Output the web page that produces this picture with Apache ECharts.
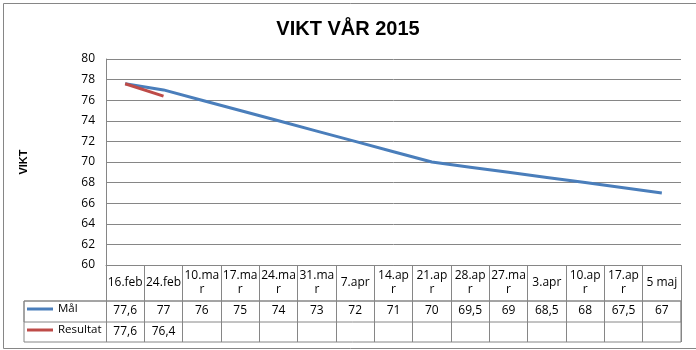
<!DOCTYPE html>
<html>
<head>
<meta charset="utf-8">
<script src="https://cdn.jsdelivr.net/npm/echarts@6/dist/echarts.min.js"></script>
<style>
html,body{margin:0;padding:0;background:#fff;}
#c{width:696px;height:350px;}
</style>
</head>
<body>
<div id="c"></div>
<script>
// Category labels as displayed in the data table (wrapped as in the picture)
var categories = ["16.feb","24.feb","10.ma\nr","17.ma\nr","24.ma\nr","31.ma\nr","7.apr","14.ap\nr","21.ap\nr","28.ap\nr","27.ma\nr","3.apr","10.ap\nr","17.ap\nr","5 maj"];
var malValues = [77.6,77,76,75,74,73,72,71,70,69.5,69,68.5,68,67.5,67];
var resultatValues = [77.6,76.4];
var yTicks = {min:60, max:80, interval:2};
var seriesNames = ["Mål","Resultat"];

function fmt(v){ return (v === undefined || v === null) ? "" : String(v).replace(".", ","); }
var malRow = categories.map(function(_, i){ return fmt(malValues[i]); });
var resRow = categories.map(function(_, i){ return fmt(resultatValues[i]); });

var GRAY = "#868686";
var BLUE = "#4A7EBB";
var RED = "#BE4B48";
var FONT = "Open Sans";

var chart = echarts.init(document.getElementById("c"));
chart.setOption({
  backgroundColor: "#fff",
  animation: false,
  title: {
    text: "VIKT VÅR 2015",
    left: "center",
    top: 14,
    textStyle: {fontSize: 20, fontWeight: "bold", fontFamily: "Liberation Sans", color: "#000"}
  },
  legend: [
    {data: [seriesNames[0]], left: 27, top: 303, padding: 0, icon: "rect", itemWidth: 26, itemHeight: 3,
     textStyle: {fontSize: 11.5, fontFamily: FONT, color: "#000"}},
    {data: [seriesNames[1]], left: 27, top: 324, padding: 0, icon: "rect", itemWidth: 26, itemHeight: 3,
     textStyle: {fontSize: 11.5, fontFamily: FONT, color: "#000"}}
  ],
  graphic: [
    {type: "rect", shape: {x: 3.5, y: 3.5, width: 720, height: 345}, style: {fill: "none", stroke: GRAY, lineWidth: 1}, silent: true}
  ],
  grid: [
    {left: 106, right: 15, top: 59, height: 206},
    {left: 24, right: 15, top: 301, height: 41, show: true, borderColor: GRAY, borderWidth: 1, backgroundColor: "transparent"},
    {left: 24, right: 15, top: 301, height: 21, show: true, borderColor: GRAY, borderWidth: 1, backgroundColor: "transparent"}
  ],
  xAxis: [
    {
      type: "category", gridIndex: 0, data: categories, boundaryGap: true,
      axisLine: {show: true, lineStyle: {color: GRAY, width: 1}},
      axisTick: {show: true, interval: 0, length: 77, lineStyle: {color: GRAY, width: 1}},
      axisLabel: {interval: 0, margin: 18, verticalAlign: "middle", lineHeight: 14, fontSize: 12, fontFamily: FONT, color: "#000"},
      splitLine: {show: false}
    },
    {
      type: "category", gridIndex: 0, data: malRow, position: "bottom", offset: 46,
      axisLine: {show: false}, axisTick: {show: false},
      axisLabel: {interval: 0, margin: 0, verticalAlign: "middle", fontSize: 12, fontFamily: FONT, color: "#000"}
    },
    {
      type: "category", gridIndex: 0, data: resRow, position: "bottom", offset: 67,
      axisLine: {show: false}, axisTick: {show: false},
      axisLabel: {interval: 0, margin: 0, verticalAlign: "middle", fontSize: 12, fontFamily: FONT, color: "#000"}
    }
  ],
  yAxis: [{
    type: "value", gridIndex: 0, min: yTicks.min, max: yTicks.max, interval: yTicks.interval,
    name: "VIKT", nameLocation: "middle", nameGap: 77, nameRotate: 90,
    nameTextStyle: {fontSize: 11, fontWeight: "bold", fontFamily: "Liberation Sans", color: "#000"},
    axisLine: {show: true, lineStyle: {color: GRAY, width: 1}},
    axisTick: {show: false},
    axisLabel: {margin: 11, fontSize: 12, fontFamily: FONT, color: "#000"},
    splitLine: {show: true, lineStyle: {color: GRAY, width: 1}}
  }],
  series: [
    {name: seriesNames[0], type: "line", xAxisIndex: 0, yAxisIndex: 0, data: malValues, symbol: "none",
     color: BLUE, lineStyle: {color: BLUE, width: 3}},
    {name: seriesNames[1], type: "line", xAxisIndex: 0, yAxisIndex: 0, data: resultatValues, symbol: "none",
     color: RED, lineStyle: {color: RED, width: 3}}
  ]
});
</script>
</body>
</html>
